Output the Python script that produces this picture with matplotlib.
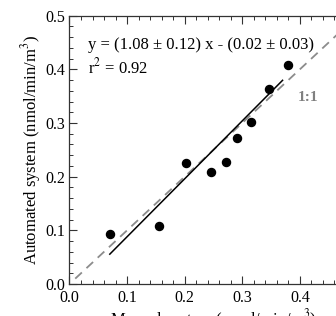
#!/usr/bin/env python

# Automated vs manual system comparison, with regression line and 1:1 line

import matplotlib.pyplot as plt
import numpy as np

plt.rcParams['font.family'] = ['Liberation Serif', 'DejaVu Serif']
plt.rcParams['mathtext.fontset'] = 'stix'

manual = [0.070, 0.155, 0.203, 0.245, 0.271, 0.291, 0.315, 0.347, 0.380]
automated = [0.093, 0.109, 0.226, 0.209, 0.227, 0.273, 0.301, 0.363, 0.409]
slope, intercept = 1.08, -0.02
slopeErr, interceptErr = 0.12, 0.03
r2 = 0.92
oneToOne = [0.01, 0.5]

fig = plt.figure(figsize=(3.36, 3.16), dpi=100)
ax = fig.add_axes([0.2068, 0.1013, 0.857, 0.849])

ax.plot(oneToOne, oneToOne, '--', color='0.55', linewidth=1.3, dashes=(5, 3.5))
xfit = np.array([min(manual), max(manual) - 0.01])
ax.plot(xfit, slope*xfit + intercept, 'k-', linewidth=1.1)
ax.plot(manual, automated, 'ko', markersize=5.8)

ax.text(0.032, 0.446, 'y = ({:.2f} ± {:.2f}) x - ({:.2f} ± {:.2f})'.format(slope, slopeErr, -intercept, interceptErr),
        fontsize=12, va='center')
ax.text(0.032, 0.403, 'r$^{2}$ = ' + '{:.2f}'.format(r2), fontsize=12, va='center')
ax.text(0.397, 0.348, '1:1', fontsize=11, color='0.5', fontweight='bold', va='center')

ax.set_xlim(0, 0.5)
ax.set_ylim(0, 0.5)
ax.set_xticks([0.0, 0.1, 0.2, 0.3, 0.4, 0.5])
ax.set_yticks([0.0, 0.1, 0.2, 0.3, 0.4, 0.5])
ax.set_xticks(np.arange(0, 0.501, 0.02), minor=True)
ax.set_yticks(np.arange(0, 0.501, 0.02), minor=True)
ax.xaxis.set_major_formatter(plt.FormatStrFormatter('%.1f'))
ax.yaxis.set_major_formatter(plt.FormatStrFormatter('%.1f'))
ax.tick_params(which='both', direction='in', top=True, right=True, labelsize=11.5, color='0.2')
ax.tick_params(which='major', length=5.5, width=0.8, pad=3)
ax.tick_params(axis='x', which='major', pad=4.5)
ax.tick_params(which='minor', length=3, width=0.7)
for s in ax.spines.values():
    s.set_linewidth(0.9)
    s.set_color('0.2')

ax.set_ylabel('Automated system (nmol/min/m$^{3}$)', fontsize=12, labelpad=2)
ax.set_xlabel('Manual system (nmol/min/m$^{3}$)', fontsize=12, labelpad=0.5)

plt.savefig('out.png', dpi=100)
